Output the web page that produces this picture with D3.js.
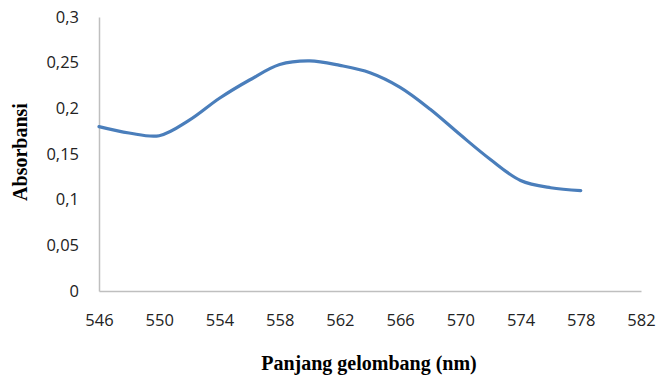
<!DOCTYPE html>
<html>
<head>
<meta charset="utf-8">
<script src="https://cdn.jsdelivr.net/npm/d3@7"></script>
<style>
  body { margin: 0; background: #fff; }
</style>
</head>
<body>
<div id="plot"></div>
<script>
// Data
const wavelengths = [546, 548, 550, 552, 554, 556, 558, 560, 562, 564, 566, 568, 570, 572, 574, 576, 578];
const absorbance = [0.180, 0.173, 0.170, 0.187, 0.211, 0.231, 0.248, 0.252, 0.247, 0.239, 0.223, 0.199, 0.171, 0.144, 0.121, 0.113, 0.110];
const xTicks = [546, 550, 554, 558, 562, 566, 570, 574, 578, 582];
const yTicks = [0, 0.05, 0.1, 0.15, 0.2, 0.25, 0.3];

const width = 659, height = 375;
const margin = { left: 99, right: 18, top: 17, bottom: 84 };

const svg = d3.select("#plot")
    .append("svg")
    .attr("width", width)
    .attr("height", height);

const x = d3.scaleLinear()
    .domain([546, 582])
    .range([margin.left, width - margin.right]);

const y = d3.scaleLinear()
    .domain([0, 0.3])
    .range([height - margin.bottom, margin.top]);

const fmt = d => d3.format("~g")(d).replace(".", ",");

// Y axis
const yAxis = svg.append("g")
    .attr("transform", `translate(${margin.left},0)`)
    .call(d3.axisLeft(y).tickValues(yTicks).tickSize(0).tickPadding(20).tickFormat(fmt));
yAxis.select(".domain").attr("stroke", "#bfbfbf").attr("stroke-width", 1.5);
yAxis.selectAll("text")
    .attr("fill", "#222")
    .style("font-family", "'Open Sans', sans-serif")
    .style("font-size", "16.5px");

// X axis
const xAxis = svg.append("g")
    .attr("transform", `translate(0,${y(0)})`)
    .call(d3.axisBottom(x).tickValues(xTicks).tickSize(0).tickPadding(23).tickFormat(d3.format("d")));
xAxis.select(".domain").attr("stroke", "#bfbfbf").attr("stroke-width", 1.5);
xAxis.selectAll("text")
    .attr("fill", "#222")
    .style("font-family", "'Open Sans', sans-serif")
    .style("font-size", "16.5px");

// Line
const line = d3.line()
    .x((d, i) => x(wavelengths[i]))
    .y(d => y(d))
    .curve(d3.curveCatmullRom.alpha(0.5));

svg.append("path")
    .datum(absorbance)
    .attr("d", line)
    .attr("fill", "none")
    .attr("stroke", "#4a7ebb")
    .attr("stroke-width", 3.2)
    .attr("stroke-linecap", "round");

// Axis titles
svg.append("text")
    .attr("x", 369)
    .attr("y", 370)
    .attr("text-anchor", "middle")
    .style("font-family", "'Liberation Serif', serif")
    .style("font-weight", "bold")
    .style("font-size", "20px")
    .text("Panjang gelombang (nm)");

svg.append("text")
    .attr("transform", "translate(27,152) rotate(-90)")
    .attr("text-anchor", "middle")
    .style("font-family", "'Liberation Serif', serif")
    .style("font-weight", "bold")
    .style("font-size", "20px")
    .text("Absorbansi");
</script>
</body>
</html>
